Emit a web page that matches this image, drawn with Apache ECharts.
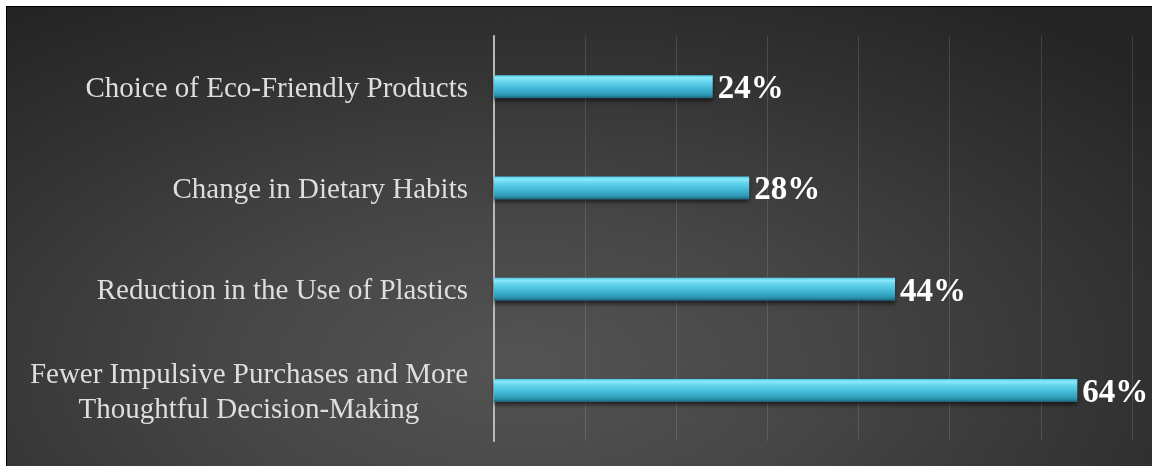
<!DOCTYPE html>
<html>
<head>
<meta charset="utf-8">
<script src="https://cdn.jsdelivr.net/npm/echarts@6/dist/echarts.min.js"></script>
<style>
  html, body { margin: 0; padding: 0; background: #ffffff; }
  #wrap { position: absolute; left: 0; top: 0; width: 1152px; height: 466px; background: #ffffff; overflow: hidden; }
  #chart {
    position: absolute; left: 6px; top: 6px; width: 1146px; height: 460px;
    box-sizing: border-box;
    border-left: 1px solid #000; border-top: 1px solid #000;
    background: radial-gradient(ellipse 75% 95% at 45% 78%, #545454 0%, #464646 35%, #333333 70%, #242424 100%);
  }
</style>
</head>
<body>
<div id="wrap"><div id="chart"></div></div>
<script>
const categories = [
  "Choice of Eco-Friendly Products",
  "Change in Dietary Habits",
  "Reduction in the Use of Plastics",
  "Fewer Impulsive Purchases and More\nThoughtful Decision-Making"
];
const values = [0.24, 0.28, 0.44, 0.64];
const axisMin = 0, axisMax = 0.7, axisStep = 0.1;

const chart = echarts.init(document.getElementById('chart'), null, { renderer: 'canvas' });
const barGradient = new echarts.graphic.LinearGradient(0, 0, 0, 1, [
  { offset: 0, color: '#4fc6e2' },
  { offset: 0.12, color: '#8ae9fb' },
  { offset: 0.3, color: '#62d3ed' },
  { offset: 0.6, color: '#41b6d4' },
  { offset: 0.85, color: '#2e98b5' },
  { offset: 1, color: '#1b6478' }
]);

chart.setOption({
  backgroundColor: 'transparent',
  animation: false,
  grid: { left: 487, top: 29, right: 20, bottom: 25, containLabel: false },
  xAxis: {
    type: 'value', min: axisMin, max: axisMax, interval: axisStep,
    axisLabel: { show: false }, axisTick: { show: false }, axisLine: { show: false },
    splitLine: { show: true, lineStyle: { color: 'rgba(255,255,255,0.13)', width: 1 } }
  },
  yAxis: {
    type: 'category', data: categories, inverse: true,
    axisTick: { show: false },
    axisLine: { show: true, lineStyle: { color: '#b8b8b8', width: 2 } },
    axisLabel: {
      margin: 26,
      padding: [5, 0, 0, 0],
      formatter: function (v) { return v.split('\n').map(s => '{c|' + s + '}').join('\n'); },
      rich: {
        c: { fontFamily: '"Liberation Serif", "Times New Roman", serif', fontSize: 29, color: '#dedede', align: 'center', lineHeight: 35 }
      }
    }
  },
  series: [{
    type: 'bar', data: values, barWidth: 23,
    itemStyle: {
      color: barGradient,
      shadowColor: 'rgba(0,0,0,0.55)', shadowBlur: 4, shadowOffsetY: 3
    },
    label: {
      show: true, position: 'right', distance: 5, offset: [0, 3],
      formatter: p => Math.round(p.value * 100) + '%',
      fontFamily: '"Liberation Serif", "Times New Roman", serif',
      fontWeight: 'bold', fontSize: 33, color: '#ffffff'
    }
  }]
});
</script>
</body>
</html>
